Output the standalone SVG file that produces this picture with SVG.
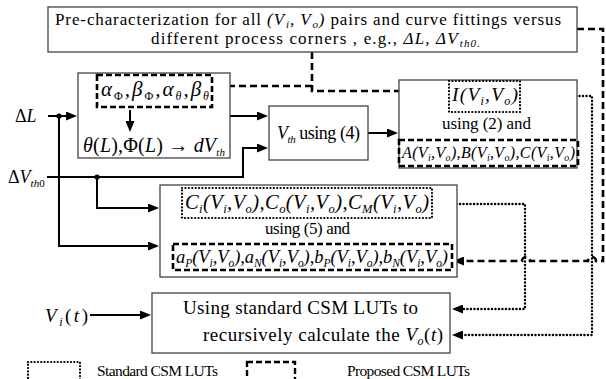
<svg xmlns="http://www.w3.org/2000/svg" width="606" height="379" viewBox="0 0 606 379">
<defs>
<style>
.t{font-family:"Liberation Serif","Times New Roman",serif;fill:#000}
.i{font-style:italic}
.box{fill:#fff;stroke:#444;stroke-width:1.3}
.dash{fill:none;stroke:#000;stroke-width:2.6;stroke-dasharray:6 3}
.dot{fill:none;stroke:#000;stroke-width:2.2;stroke-dasharray:0.1 3.3;stroke-linecap:round}
.wire{fill:none;stroke:#000;stroke-width:2}
.dwire{fill:none;stroke:#000;stroke-width:2.6;stroke-dasharray:7 4}
.owire{fill:none;stroke:#000;stroke-width:2.4;stroke-dasharray:0.1 3.4;stroke-linecap:round}
</style>
<marker id="ah" viewBox="0 0 11 9" refX="8" refY="4.5" markerWidth="11" markerHeight="9" markerUnits="userSpaceOnUse" orient="auto">
<path d="M0,0 L11,4.5 L0,9 z" fill="#000"/>
</marker>
</defs>
<rect width="606" height="379" fill="#fff"/>

<g id="connectors">
<path class="wire" d="M48,116 H74" marker-end="url(#ah)"/>
<path class="wire" d="M59,116 V246 H156" marker-end="url(#ah)"/>
<path class="wire" d="M47,177 H243 V148 H265" marker-end="url(#ah)"/>
<path class="wire" d="M97,177 V208 H156" marker-end="url(#ah)"/>
<circle cx="59" cy="116" r="2.6" fill="#000"/>
<circle cx="97" cy="177" r="2.6" fill="#000"/>
<path class="wire" d="M230,116 H265" marker-end="url(#ah)"/>
<path class="wire" d="M368,133 H395" marker-end="url(#ah)"/>
<path class="wire" d="M90,315 H148" marker-end="url(#ah)"/>
<path class="dwire" d="M312,52 V91 H421 V136" marker-end="url(#ah)"/>
<path class="dwire" d="M312,86 H216" marker-end="url(#ah)"/>
<path class="dwire" d="M577,29 H603 V261 H596 A4,4 0 0 0 588,261 H530 A4,4 0 0 0 522,261 H456" marker-end="url(#ah)"/>
<path class="owire" d="M520,96 H592 V335 H455" marker-end="url(#ah)"/>
<path class="owire" d="M432,204 H525 V309 H455" marker-end="url(#ah)"/>
</g>

<g id="precharacterization">
<rect class="box" x="48" y="7" width="529" height="45"/>
<text class="t" x="55" y="25" font-size="17" textLength="506">Pre-characterization for all  <tspan class="i">(V</tspan><tspan class="i" font-size="11" dx="1" dy="3">i</tspan><tspan class="i" dy="-3">, V</tspan><tspan class="i" font-size="11" dx="1" dy="3">o</tspan><tspan class="i" dy="-3">)</tspan> pairs and curve fittings versus</text>
<text class="t" x="151" y="44" font-size="17" textLength="329">different process corners , e.g., <tspan class="i">ΔL, ΔV</tspan><tspan class="i" font-size="11" dx="1" dy="3">th0.</tspan></text>
</g>

<g id="alpha-box">
<rect class="box" x="78" y="73" width="152" height="85"/>
<rect class="dash" x="97" y="75" width="115" height="32"/>
<text class="t i" x="101" y="96" font-size="21" textLength="108">α<tspan font-size="12" font-style="normal" dy="4">Φ</tspan><tspan dy="-4">,β</tspan><tspan font-size="12" font-style="normal" dy="4">Φ</tspan><tspan dy="-4">,α</tspan><tspan font-size="12" dy="4">θ</tspan><tspan dy="-4">,β</tspan><tspan font-size="12" dy="4">θ</tspan></text>
<path class="wire" d="M130,110 V129" marker-end="url(#ah)"/>
<text class="t" x="83" y="152" font-size="20" textLength="142"><tspan class="i">θ</tspan>(<tspan class="i">L</tspan>),Φ(<tspan class="i">L</tspan>) → <tspan class="i">dV</tspan><tspan class="i" font-size="11" dy="4">th</tspan></text>
</g>

<g id="vth-box">
<rect class="box" x="269" y="106" width="99" height="54"/>
<text class="t" x="277" y="139" font-size="18" textLength="83"><tspan class="i">V</tspan><tspan class="i" font-size="11" dy="3.5">th</tspan><tspan dy="-3.5"> using (4)</tspan></text>
</g>

<g id="iv-box">
<rect class="box" x="399" y="80" width="178" height="88"/>
<rect class="dot" x="449" y="81" width="71" height="31"/>
<text class="t i" x="452" y="101" font-size="19.5" textLength="66">I(V<tspan font-size="12" dy="4">i</tspan><tspan dy="-4">,V</tspan><tspan font-size="12" dy="4">o</tspan><tspan dy="-4">)</tspan></text>
<text class="t" x="442" y="129" font-size="17" textLength="89">using (2) and</text>
<rect class="dash" x="399" y="140" width="179" height="26"/>
<text class="t i" x="402" y="158" font-size="16" textLength="173">A(V<tspan font-size="10" dy="3">i</tspan><tspan dy="-3">,V</tspan><tspan font-size="10" dy="3">o</tspan><tspan dy="-3">),B(V</tspan><tspan font-size="10" dy="3">i</tspan><tspan dy="-3">,V</tspan><tspan font-size="10" dy="3">o</tspan><tspan dy="-3">),C(V</tspan><tspan font-size="10" dy="3">i</tspan><tspan dy="-3">,V</tspan><tspan font-size="10" dy="3">o</tspan><tspan dy="-3">)</tspan></text>
</g>

<g id="cap-box">
<rect class="box" x="160" y="185" width="297" height="92"/>
<rect class="dot" x="182" y="188" width="250" height="30"/>
<text class="t i" x="185" y="209" font-size="20.5" textLength="244">C<tspan font-size="12.5" dy="4">i</tspan><tspan dy="-4">(V</tspan><tspan font-size="12.5" dy="4">i</tspan><tspan dy="-4">,V</tspan><tspan font-size="12.5" dy="4">o</tspan><tspan dy="-4">),C</tspan><tspan font-size="12.5" dy="4">o</tspan><tspan dy="-4">(V</tspan><tspan font-size="12.5" dy="4">i</tspan><tspan dy="-4">,V</tspan><tspan font-size="12.5" dy="4">o</tspan><tspan dy="-4">),C</tspan><tspan font-size="12.5" dy="4">M</tspan><tspan dy="-4">(V</tspan><tspan font-size="12.5" dy="4">i</tspan><tspan dy="-4">,V</tspan><tspan font-size="12.5" dy="4">o</tspan><tspan dy="-4">)</tspan></text>
<text class="t" x="265" y="234" font-size="17" textLength="85">using (5) and</text>
<rect class="dash" x="173" y="244" width="279" height="26"/>
<text class="t i" x="176" y="263" font-size="18.5" textLength="272">a<tspan font-size="11.5" dy="3.5">P</tspan><tspan dy="-3.5">(V</tspan><tspan font-size="11.5" dy="3.5">i</tspan><tspan dy="-3.5">,V</tspan><tspan font-size="11.5" dy="3.5">o</tspan><tspan dy="-3.5">),a</tspan><tspan font-size="11.5" dy="3.5">N</tspan><tspan dy="-3.5">(V</tspan><tspan font-size="11.5" dy="3.5">i</tspan><tspan dy="-3.5">,V</tspan><tspan font-size="11.5" dy="3.5">o</tspan><tspan dy="-3.5">),b</tspan><tspan font-size="11.5" dy="3.5">P</tspan><tspan dy="-3.5">(V</tspan><tspan font-size="11.5" dy="3.5">i</tspan><tspan dy="-3.5">,V</tspan><tspan font-size="11.5" dy="3.5">o</tspan><tspan dy="-3.5">),b</tspan><tspan font-size="11.5" dy="3.5">N</tspan><tspan dy="-3.5">(V</tspan><tspan font-size="11.5" dy="3.5">i</tspan><tspan dy="-3.5">,V</tspan><tspan font-size="11.5" dy="3.5">o</tspan><tspan dy="-3.5">)</tspan></text>
</g>

<g id="csm-box">
<rect class="box" x="152" y="293" width="298" height="60"/>
<text class="t" x="183" y="314" font-size="19" textLength="235">Using standard CSM LUTs to</text>
<text class="t" x="203" y="341" font-size="19" textLength="240">recursively calculate  the  <tspan class="i">V</tspan><tspan class="i" font-size="12" dy="4">o</tspan><tspan dy="-4">(</tspan><tspan class="i">t</tspan>)</text>
</g>

<g id="inputs">
<text class="t" x="15" y="122" font-size="18">Δ<tspan class="i">L</tspan></text>
<text class="t" x="8" y="183" font-size="18">Δ<tspan class="i">V</tspan><tspan class="i" font-size="11" dy="4">th</tspan><tspan font-size="11">0</tspan></text>
<text class="t" x="45" y="322" font-size="19" textLength="43"><tspan class="i">V</tspan><tspan class="i" font-size="12" dy="4">i</tspan><tspan dy="-4">(</tspan><tspan class="i">t</tspan>)</text>
</g>

<g id="legend">
<rect x="28" y="362" width="52" height="22" fill="none" stroke="#000" stroke-width="2.2" stroke-dasharray="0.1 3.2" stroke-linecap="round"/>
<text class="t" x="97" y="376" font-size="15.5" textLength="121">Standard CSM LUTs</text>
<rect x="247" y="362" width="48" height="22" fill="none" stroke="#000" stroke-width="2.4" stroke-dasharray="6 3"/>
<text class="t" x="347" y="376" font-size="15.5" textLength="123">Proposed CSM LUTs</text>
</g>
</svg>
